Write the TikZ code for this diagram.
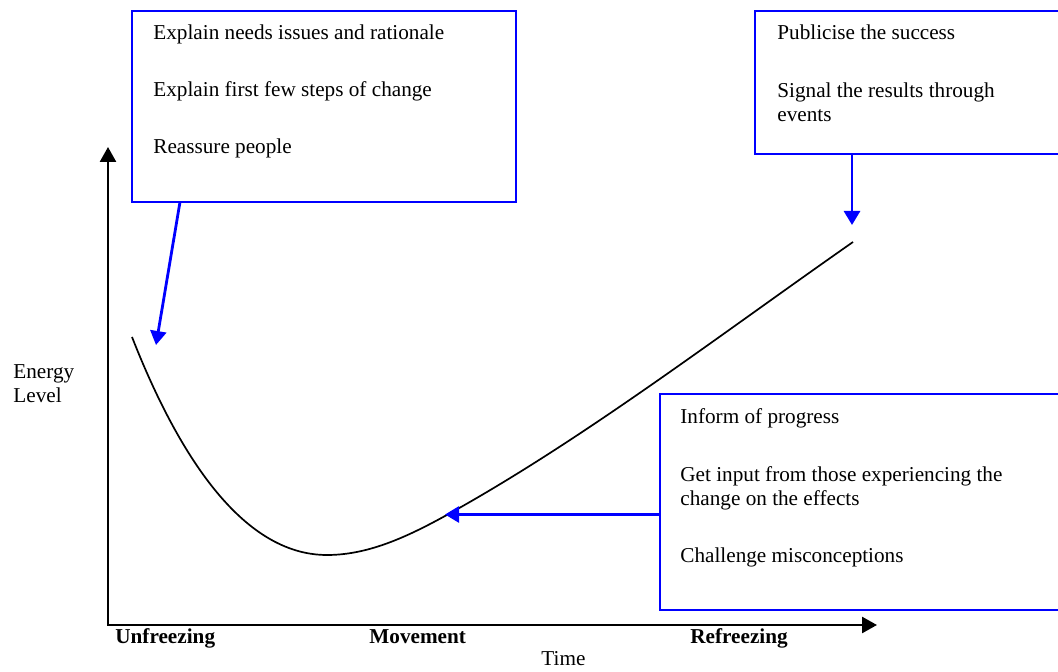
\documentclass[tikz,border=0pt]{standalone}
\usepackage{fontspec}
\setmainfont{Liberation Serif}
\usetikzlibrary{arrows.meta,positioning}
\tikzset
{
    infobox/.style  = {rectangle, draw=blue, line width=1pt, anchor=north west, inner sep=0pt, outer sep=0pt},
    infotext/.style = {anchor=base west, align=left, inner sep=0pt, font=\fontsize{10.6}{12}\selectfont},
    stage/.style    = {anchor=base west, inner sep=0pt, font=\fontsize{10.6}{12}\selectfont\bfseries},
    axis/.style     = {line width=1.3pt, line join=miter, {Triangle[length=7.5pt,width=8pt]}-{Triangle[length=7.5pt,width=8pt]}},
    pointer/.style  = {draw=blue, line width=1.4pt, -{Triangle[length=7pt,width=8pt]}},
    curve/.style    = {line width=0.85pt}
}

\begin{document}
\begin{tikzpicture}[x=0.5pt, y=-0.5pt]
   \useasboundingbox (0,0) rectangle (1058,672);

   % boxes
   \node (b1) [infobox, minimum width=192pt, minimum height=95.5pt]   at (132, 11)   {};
   \node (b2) [infobox, minimum width=155pt, minimum height=71.75pt]  at (755, 11)   {};
   \node (b3) [infobox, minimum width=202.5pt, minimum height=107.75pt] at (660, 394.5) {};

   \node (t11) [infotext] at (153, 40)  {Explain needs issues and rationale};
   \node (t12) [infotext] at (153, 97)  {Explain first few steps of change};
   \node (t13) [infotext] at (153, 154) {Reassure people};

   \node (t21) [infotext] at (777, 40)  {Publicise the success};
   \node (t22) [infotext] at (777, 122) {Signal the results through\\events};

   \node (t31) [infotext] at (680, 424) {Inform of progress};
   \node (t32) [infotext] at (680, 505) {Get input from those experiencing the\\change on the effects};
   \node (t33) [infotext] at (680, 562) {Challenge misconceptions};

   % axes
   \coordinate (o)    at (108, 625);
   \coordinate (ytip) at (108, 147);
   \coordinate (xtip) at (877, 625);
   \draw[axis] (ytip) -- (o) -- (xtip);

   \node (energy) [infotext] at (13, 403)  {Energy\\Level};
   \node (unf)    [stage]    at (115, 643) {Unfreezing};
   \node (mov)    [stage]    at (369, 643) {Movement};
   \node (ref)    [stage]    at (690, 643) {Refreezing};
   \node (time)   [infotext] at (541, 665) {Time};

   % energy curve
   \draw[curve] (132,337) .. controls (185,472) and (250,555) .. (327,555)
                          .. controls (367,555) and (405,538) .. (445,516)
                          .. controls (581,441) and (717,337) .. (853,242);

   % pointers
   \coordinate (p1) at (156, 345);
   \coordinate (p2) at (852, 225);
   \coordinate (p3) at (445, 514.5);

   \path
      ([shift={(48,0)}]b1.south west)  edge[pointer] (p1)
      (p2 |- b2.south)                 edge[pointer] (p2)
      (p3 -| b3.west)                  edge[pointer] (p3);
\end{tikzpicture}
\end{document}
